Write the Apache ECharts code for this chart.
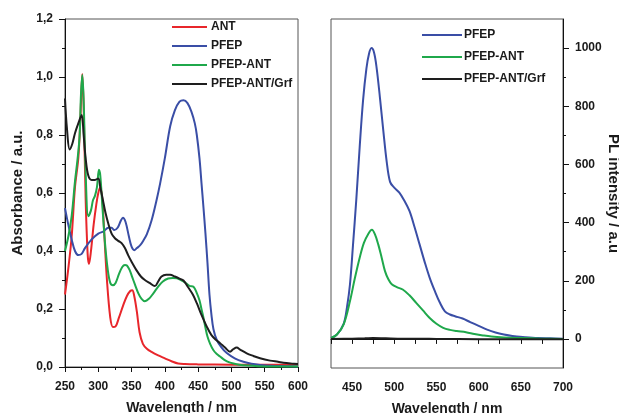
<!DOCTYPE html>
<html>
<head>
<meta charset="utf-8">
<script src="https://cdn.jsdelivr.net/npm/echarts@6/dist/echarts.min.js"></script>
<style>html,body{margin:0;padding:0;background:#fff;}#c{width:619px;height:413px;}</style>
</head>
<body>
<div id="c"></div>
<script>
// ---- Absorbance (left panel) ----
const antNm  = [250,255,260,265,270,273,276,278,281,284,286,289,293,297,300,303,306,309,313,318,322,326,331,337,343,348,351,354,358,362,367,373,380,390,400,410,420,430,450,500,550,600];
const antAbs = [0.25,0.34,0.45,0.62,0.72,0.85,1.01,0.90,0.58,0.39,0.355,0.40,0.49,0.56,0.60,0.62,0.58,0.46,0.30,0.17,0.138,0.14,0.17,0.21,0.245,0.262,0.265,0.245,0.19,0.12,0.08,0.063,0.052,0.04,0.03,0.02,0.012,0.01,0.009,0.008,0.008,0.008];

const pfepNm  = [250,255,260,265,270,275,280,290,300,308,315,320,324,329,334,337,341,346,350,354,358,363,368,373,380,387,393,400,408,415,422,428,434,440,445,448,452,455,458,461,464,467,470,473,478,485,493,505,518,530,543,560,580,600];
const pfepAbs = [0.548,0.49,0.44,0.40,0.386,0.39,0.41,0.44,0.46,0.468,0.48,0.48,0.472,0.48,0.505,0.515,0.50,0.45,0.415,0.403,0.41,0.42,0.437,0.458,0.505,0.57,0.634,0.72,0.83,0.885,0.915,0.92,0.91,0.88,0.84,0.80,0.72,0.635,0.55,0.46,0.36,0.25,0.18,0.13,0.093,0.068,0.048,0.03,0.018,0.011,0.007,0.004,0.003,0.002];

const pantNm  = [250,255,260,265,269,272,274,276,278,281,285,289,292,295,298,301,303,306,310,314,318,322,326,331,336,340,343,347,351,355,360,365,370,376,383,390,397,405,412,418,424,430,437,443,448,452,455,458,461,464,468,473,478,483,490,497,503,512,525,540,560,600];
const pantAbs = [0.40,0.45,0.52,0.64,0.72,0.80,0.94,1.007,0.92,0.67,0.52,0.54,0.575,0.59,0.62,0.68,0.66,0.56,0.43,0.34,0.29,0.282,0.29,0.32,0.345,0.352,0.35,0.335,0.31,0.285,0.255,0.235,0.227,0.235,0.255,0.277,0.295,0.305,0.307,0.306,0.30,0.292,0.28,0.277,0.255,0.23,0.20,0.17,0.135,0.105,0.08,0.058,0.045,0.036,0.024,0.016,0.012,0.008,0.005,0.003,0.002,0.002];

const grfNm  = [250,253,257,261,265,270,275,278,281,285,290,295,300,303,307,311,315,320,325,330,335,340,345,350,357,364,370,377,385,390,395,402,408,415,422,428,435,442,448,455,463,470,477,483,490,498,503,508,513,523,533,543,558,570,578,590,600];
const grfAbs = [0.926,0.82,0.75,0.77,0.806,0.84,0.869,0.80,0.72,0.66,0.645,0.645,0.65,0.62,0.575,0.53,0.495,0.46,0.444,0.435,0.427,0.41,0.385,0.363,0.335,0.312,0.30,0.29,0.279,0.295,0.312,0.318,0.318,0.312,0.305,0.298,0.275,0.25,0.22,0.18,0.139,0.11,0.093,0.082,0.068,0.053,0.062,0.067,0.06,0.047,0.038,0.03,0.022,0.018,0.015,0.012,0.01];

// ---- PL (right panel) ----
const plPfepNm = [425,432,440,444,447.5,451,455,459,463,467,470,473,476,479,483,487,491,495,500,506,512,518,524,530,536,542,548,554,560,566,572,581,590,600,610,620,630,640,655,670,685,700];
const plPfep   = [3,15,52,110,188,320,480,660,820,930,980,1000,985,934,830,716,610,540,520,503,475,440,385,325,265,210,165,125,95,84,78,70,58,45,32,22,15,10,6,3,2,1];

const plPantNm = [425,432,440,447.5,453,459,464,469,473.5,477,481,485,489,493,497,503,510,518,526,534,542,550,558,566,574,585,595,605,615,630,650,675,700];
const plPant   = [3,15,50,130,205,279,330,360,375,360,325,280,233,205,188,178,170,150,124,98,72,52,38,31,27,23,17,12,8,5,3,1,0];

const plGrfNm = [425,450,465,475,490,510,530,550,600,650,700];
const plGrf   = [0,1,2,3,2,1,1,0,-1,-1,-1];

// ---- tick labels ----
const plXLabels = [450,500,550,600,650,700];
const plYLabels = [0,200,400,600,800,1000];
const plYMinor  = [100,300,500,700,900];

const zip = (a,b) => a.map((v,i)=>[v,b[i]]);

const RED='#e8262b', BLUE='#3a4ea6', GREEN='#1fa84b', BLACK='#1e1e1e';
const FONT='"Liberation Sans", Arial, sans-serif';
const txt = {color:'#1a1a1a', fontWeight:'bold', fontFamily:FONT};

function line(name, data, color, xi, yi){
  return {name, type:'line', data, xAxisIndex:xi, yAxisIndex:yi, symbol:'none', showSymbol:false,
    smooth:0.35, lineStyle:{color, width:2}, itemStyle:{color}, animation:false, z:3};
}

const chart = echarts.init(document.getElementById('c'), null, {renderer:'canvas'});
chart.setOption({
  backgroundColor:'#fff',
  animation:false,
  grid:[
    {left:65, top:19, width:233, height:348, show:true, borderColor:'#555', borderWidth:1, backgroundColor:'transparent', outerBoundsMode:'none', containLabel:false},
    {left:331, top:19, width:232, height:349, show:true, borderColor:'#555', borderWidth:1, backgroundColor:'transparent', outerBoundsMode:'none', containLabel:false}
  ],
  legend:[
    {orient:'vertical', left:172, top:20, icon:'rect', itemWidth:35, itemHeight:2, itemGap:5, padding:0,
     data:['ANT','PFEP','PFEP-ANT','PFEP-ANT/Grf'],
     textStyle:Object.assign({fontSize:12, lineHeight:14, padding:[0,0,0,-1]}, txt)},
    {orient:'vertical', left:422, top:28, icon:'rect', itemWidth:40, itemHeight:2, itemGap:8, padding:0,
     data:['PFEP','PFEP-ANT','PFEP-ANT/Grf'],
     textStyle:Object.assign({fontSize:12, lineHeight:14, padding:[0,0,0,-3]}, txt)}
  ],
  xAxis:[
    {type:'value', gridIndex:0, min:250, max:600, interval:50,
     axisLine:{show:true, lineStyle:{color:'#111', width:1}},
     axisTick:{show:true, inside:false, length:5, lineStyle:{color:'#111'}},
     minorTick:{show:true, splitNumber:2, length:3, lineStyle:{color:'#111'}},
     splitLine:{show:false}, minorSplitLine:{show:false},
     axisLabel:Object.assign({fontSize:12, margin:14}, txt),
     name:'Wavelength / nm', nameLocation:'middle', nameGap:34,
     nameTextStyle:Object.assign({fontSize:14}, txt)},
    {type:'value', gridIndex:1, min:425, max:700, interval:25,
     axisLine:{show:true, lineStyle:{color:'#111', width:1}},
     axisTick:{show:true, inside:false, length:5, lineStyle:{color:'#111'}},
     splitLine:{show:false},
     axisLabel:Object.assign({fontSize:12, margin:14, customValues:plXLabels}, txt),
     name:'Wavelength / nm', nameLocation:'middle', nameGap:34,
     nameTextStyle:Object.assign({fontSize:14}, txt)}
  ],
  yAxis:[
    {type:'value', gridIndex:0, min:0, max:1.2, interval:0.2,
     axisLine:{show:true, lineStyle:{color:'#111', width:1}},
     axisTick:{show:true, inside:false, length:6, lineStyle:{color:'#111'}},
     minorTick:{show:true, splitNumber:2, length:3, lineStyle:{color:'#111'}},
     splitLine:{show:false}, minorSplitLine:{show:false},
     axisLabel:Object.assign({fontSize:12, margin:12, formatter:v=>v.toFixed(1).replace('.',',')}, txt),
     name:'Absorbance / a.u.', nameLocation:'middle', nameGap:40,
     nameTextStyle:Object.assign({fontSize:15}, txt)},
    {type:'value', gridIndex:1, position:'right', min:-100, max:1100, interval:100,
     axisLine:{show:true, onZero:false, lineStyle:{color:'#111', width:1}},
     axisTick:{show:true, inside:false, length:6, customValues:plYLabels, lineStyle:{color:'#111'}},
     splitLine:{show:false},
     axisLabel:Object.assign({fontSize:12, margin:12, customValues:plYLabels, formatter:v=>String(v)}, txt),
     name:'PL intensity / a.u', nameLocation:'middle', nameGap:32, nameRotate:-90,
     nameTextStyle:Object.assign({fontSize:15}, txt)},
    {type:'value', gridIndex:1, position:'right', min:-100, max:1100, interval:100,
     axisLine:{show:false},
     axisTick:{show:true, inside:false, length:3, customValues:plYMinor, lineStyle:{color:'#111'}},
     splitLine:{show:false},
     axisLabel:{show:false}}
  ],
  series:[
    line('ANT', zip(antNm, antAbs), RED, 0, 0),
    line('PFEP', zip(pfepNm, pfepAbs), BLUE, 0, 0),
    line('PFEP-ANT', zip(pantNm, pantAbs), GREEN, 0, 0),
    line('PFEP-ANT/Grf', zip(grfNm, grfAbs), BLACK, 0, 0),
    line('PFEP', zip(plPfepNm, plPfep), BLUE, 1, 1),
    line('PFEP-ANT', zip(plPantNm, plPant), GREEN, 1, 1),
    line('PFEP-ANT/Grf', zip(plGrfNm, plGrf), BLACK, 1, 1)
  ]
});
</script>
</body>
</html>
